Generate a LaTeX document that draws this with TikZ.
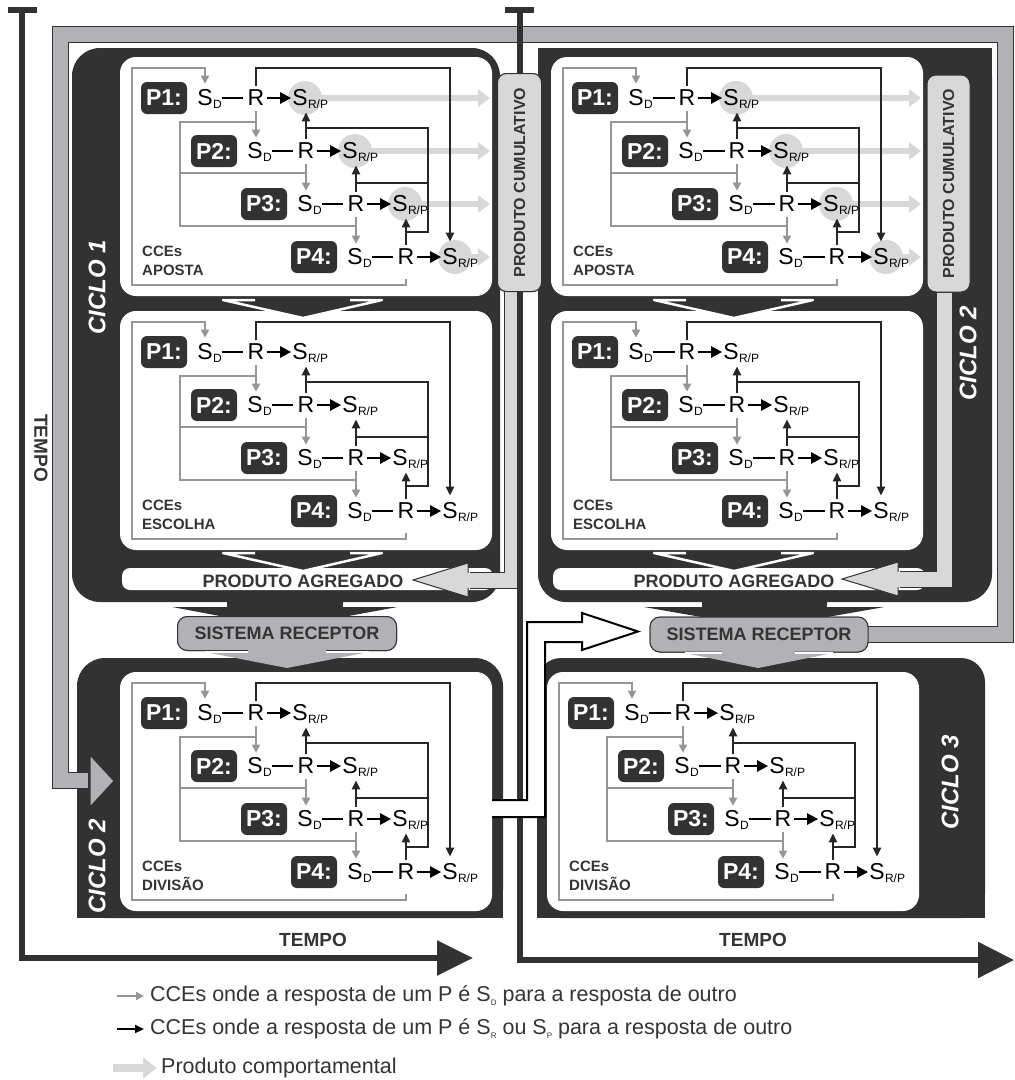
\documentclass[tikz,border=0pt]{standalone}
\usepackage{fontspec}
\setmainfont{Liberation Sans}
\usetikzlibrary{positioning, arrows.meta, calc}
\definecolor{boxDark}{RGB}{50,50,50}
\definecolor{cceGray}{RGB}{150,150,150}
\definecolor{prodLight}{RGB}{216,216,216}
\definecolor{recGray}{RGB}{178,178,182}
\definecolor{txtDark}{RGB}{52,52,52}
\newcommand{\lowsub}[1]{\raisebox{-0.35ex}{\fontsize{8}{8}\selectfont #1}}

% one panel of four participants, in local coordinates
\newcommand{\ccepanel}[3]{%
  \begin{scope}[shift={#1}]
    \fill[white, rounded corners=16pt] (120,57) rectangle (492,296);
    \ifnum#3=1
      \foreach \k in {1,...,4} {
        \node[prodcircle] (c\k) at (255+50*\k, 45+53*\k) {};
        \draw[prodarrow] (c\k.center) -- (c\k.center -| 490,0);
      }
    \fi
    \foreach \k in {1,...,4} {
      \node[plabel] (p\k) at (114+50*\k, 45+53*\k) {P\k:};
      \node[letter] (sd\k) at ([xshift=41pt]p\k.center) {S};
      \node[sub] at ([yshift=-3pt]sd\k.base east) {D};
      \node[letter] (r\k) at ([xshift=92pt]p\k.center) {R};
      \node[letter] (s\k) at ([xshift=136pt]p\k.center) {S};
      \node[sub] at ([yshift=-3pt]s\k.base east) {R/P};
      \draw[dashbar] ([xshift=9pt]sd\k.east) -- ([xshift=-4pt]r\k.west);
      \draw[mainarrow] ([xshift=2pt]r\k.east) -- ([xshift=-1pt]s\k.west);
    }
    % S_D links (grey)
    \draw[grayarrow, shorten <=14pt, shorten >=6pt] (r4.south) -- (r4.south |- 0,285) -- (132,285) -- (132,68) -| (sd1.north);
    \foreach \a/\b in {1/2, 2/3, 3/4}
      \draw[grayarrow, shorten <=5pt, shorten >=5pt] (r\a.south) -- (r\a.south |- sd\b.north);
    \draw[grayline] (r1.south |- 0,122) -- (180,122) -- (180,226) -- (r3.south |- 0,226);
    \draw[grayline] (180,173) -- (r2.south |- 0,173);
    % S_R / S_P links (black)
    \draw[blackarrow, shorten <=4pt, shorten >=7pt] (r1.north) -- (r1.north |- 0,68) -| (s4.north);
    \foreach \a/\b in {2/1, 3/2, 4/3}
      \draw[blackarrow, shorten <=4pt, shorten >=6pt] (r\a.north) -- (r\a.north |- s\b.south);
    \draw[blackline] (r2.north |- 0,128) -| (428,232) -- (r4.north |- 0,232);
    \draw[blackline] (428,183) -- (r3.north |- 0,183);
    \node[ccename] (name) at (142,246) {CCEs\\#2};
  \end{scope}}

% white-edged arrowhead between two panels
\newcommand{\chevron}[2]{%
  \filldraw[fill=boxDark, draw=white, line width=2.5pt, line join=round]
    (255+#1,#2) -- (223+#1,#2) -- (303+#1,#2+18) -- (382+#1,#2) -- (350+#1,#2);}

\begin{document}
\begin{tikzpicture}[x=1pt, y=-1pt,
    plabel/.style={fill=boxDark, rounded corners=6pt, minimum width=46pt, minimum height=32pt,
        inner sep=0pt, text=white, font=\fontsize{23}{23}\selectfont\bfseries},
    letter/.style={inner sep=0pt, text=black, font=\fontsize{23}{23}\selectfont},
    sub/.style={inner sep=0pt, anchor=base west, text=black, font=\fontsize{12}{12}\selectfont},
    ccename/.style={inner sep=0pt, anchor=north west, align=left, text=txtDark,
        font=\fontsize{15}{19}\selectfont\bfseries},
    dashbar/.style={black, line width=2.5pt},
    mainarrow/.style={black, line width=2.5pt, -{Triangle[length=11pt, width=11pt]}},
    grayline/.style={cceGray, line width=2pt},
    grayarrow/.style={grayline, -{Triangle[length=8pt, width=8pt]}},
    blackline/.style={black!85, line width=2pt},
    blackarrow/.style={blackline, -{Triangle[length=9pt, width=8pt]}},
    prodarrow/.style={prodLight, line width=6pt, -{Triangle[length=12pt, width=17pt]}},
    prodcircle/.style={circle, fill=prodLight, minimum size=34pt, inner sep=0pt},
    aggbar/.style={fill=white, rounded corners=8pt, minimum height=22pt, inner sep=0pt},
    aggtext/.style={inner sep=0pt, text=txtDark, font=\fontsize{18}{18}\selectfont\bfseries},
    recbox/.style={fill=recGray, draw=boxDark, line width=1pt, rounded corners=10pt,
        minimum width=219pt, minimum height=34pt, inner sep=0pt, text=txtDark,
        font=\fontsize{18}{18}\selectfont\bfseries},
    cumbox/.style={fill=prodLight, draw=boxDark, line width=1pt, rounded corners=9pt, rotate=90,
        minimum width=218pt, minimum height=44pt, inner sep=0pt, text=txtDark,
        font=\fontsize{16}{16}\selectfont\bfseries},
    ciclo/.style={rotate=90, inner sep=0pt, text=white, font=\fontsize{24}{24}\selectfont\bfseries\itshape},
    tempo/.style={inner sep=0pt, text=txtDark, font=\fontsize{19}{19}\selectfont\bfseries},
    axisline/.style={boxDark, line width=5.5pt},
    legendtext/.style={anchor=west, inner sep=0pt, text=txtDark, font=\fontsize{21.5}{24}\selectfont}
]
\useasboundingbox (0,0) rectangle (1015,1080);

% cycle frames
\fill[boxDark, rounded corners=28pt] (72,48) rectangle (500,602);
\fill[boxDark, rounded corners=28pt] (538,48) rectangle (992,602);
\fill[boxDark] (538,48) rectangle (992,150);
\fill[boxDark, rounded corners=28pt] (77,658) rectangle (503,918);
\fill[boxDark] (77,800) rectangle (503,918);
\fill[boxDark, rounded corners=24pt] (537,658) rectangle (985,918);
\fill[boxDark] (537,800) rectangle (985,918);

% panels
\ccepanel{(0,0)}{APOSTA}{1}
\ccepanel{(0,254)}{ESCOLHA}{0}
\ccepanel{(0,615)}{DIVISÃO}{0}
\ccepanel{(431,0)}{APOSTA}{1}
\ccepanel{(431,254)}{ESCOLHA}{0}
\ccepanel{(427,615)}{DIVISÃO}{0}

% aggregate product bars
\node[aggbar, minimum width=371pt] (agg1) at (307.5,579) {};
\node[aggbar, minimum width=372pt] (agg2) at (739,579) {};
\chevron{0}{300}
\chevron{0}{553}
\chevron{431}{300}
\chevron{431}{553}
\node[aggtext] (aggt1) at (303,581) {PRODUTO AGREGADO};
\node[aggtext] (aggt2) at (734,581) {PRODUTO AGREGADO};

% dark arrows down to the receptor
\fill[boxDark] (227,595) -- (227,606) -- (167,606) -- (283,628) -- (403,606) -- (343,606) -- (343,595) -- cycle;
\draw[white, line width=3pt] (167,605) -- (227,605) (343,605) -- (403,605);
\fill[boxDark] (702,595) -- (702,606) -- (638,606) -- (765,628) -- (890,606) -- (827,606) -- (827,595) -- cycle;
\draw[white, line width=3pt] (638,605) -- (702,605) (827,605) -- (890,605);

\node[recbox] (rec1) at (287,633.5) {SISTEMA RECEPTOR};
\node[recbox, minimum height=35pt, minimum width=218pt] (rec2) at (759,634.5) {SISTEMA RECEPTOR};
\node[cumbox] (cum1) at (519.5,182.5) {PRODUTO CUMULATIVO};
\node[cumbox, minimum height=43pt, minimum width=217pt] (cum2) at (948.5,183.5) {PRODUTO CUMULATIVO};

% behavioural product loop to the next cycle
\draw[boxDark, line width=17pt] (rec2.center) -- (rec2.center -| 1005,0) |- (60.5,34.5) |- (95,780.5);
\filldraw[fill=recGray, draw=boxDark, line width=1pt] (90,755) -- (114,781) -- (90,807) -- cycle;
\draw[recGray, line width=15pt] (rec2.center) -- (rec2.center -| 1005,0) |- (60.5,34.5) |- (88,780.5);

% cumulative product bands
\draw[boxDark, line width=17pt] (cum1.west -| 512,0) |- (470,580);
\filldraw[fill=prodLight, draw=boxDark, line width=1pt] (468,563) -- (413,580) -- (468,597) -- cycle;
\draw[prodLight, line width=15pt] (cum1.west -| 512,0) |- (466,580);
\draw[boxDark, line width=17pt] (cum2.west -| 944.5,0) |- (900,579);
\filldraw[fill=prodLight, draw=boxDark, line width=1pt] (898,562) -- (842,579) -- (898,596) -- cycle;
\draw[prodLight, line width=15pt] (cum2.west -| 944.5,0) |- (896,579);

% time axes
\coordinate (t1top) at (22,10);
\coordinate (t1corner) at (22,958);
\coordinate (t1end) at (473,958);
\coordinate (t2top) at (520,10);
\coordinate (t2corner) at (520,960);
\coordinate (t2end) at (1014,960);
\draw[axisline, -{Triangle[length=36pt, width=34pt]}] (t1top) -- (t1corner) -- (t1end);
\draw[axisline, -{Triangle[length=36pt, width=35pt]}] (t2top) -- (t2corner) -- (t2end);
\draw[axisline] (8,10) -- (37,10);
\draw[axisline] (505,10) -- (534,10);

% cumulative boxes over the axis
\node[cumbox] at (cum1) {PRODUTO CUMULATIVO};
\node[cumbox, minimum height=43pt, minimum width=217pt] at (cum2) {PRODUTO CUMULATIVO};

% hollow arrow from division panel to the second receptor
\fill[white] (488,800) -- (527,800) -- (527,622) -- (582,622) -- (582,613) -- (638,631.5)
    -- (582,650) -- (582,642) -- (545,642) -- (545,817) -- (488,817) -- cycle;
\draw[black, line width=2pt] (492,800) -- (527,800) -- (527,622) -- (582,622) -- (582,613) -- (638,631.5)
    -- (582,650) -- (582,642) -- (545,642) -- (545,817) -- (492,817);

% receptor boxes and heads into the next cycle
\node[recbox] at (rec1) {SISTEMA RECEPTOR};
\node[recbox, minimum height=35pt, minimum width=218pt] at (rec2) {SISTEMA RECEPTOR};
\fill[recGray] (248,646) -- (248,652) -- (205,652) -- (287,668) -- (369,652) -- (326,652) -- (326,646) -- cycle;
\draw[white, line width=2pt] (205,652) -- (248,652) (326,652) -- (369,652);
\fill[recGray] (722,648) -- (722,653) -- (685,653) -- (758,668) -- (833,653) -- (795,653) -- (795,648) -- cycle;
\draw[white, line width=2pt] (685,653) -- (722,653) (795,653) -- (833,653);

% labels
\node[ciclo] (cy1) at (97,287) {CICLO 1};
\node[ciclo] (cy2a) at (968,353) {CICLO 2};
\node[ciclo] (cy2b) at (97,866) {CICLO 2};
\node[ciclo] (cy3) at (950,782) {CICLO 3};
\node[tempo] (tm1) at (313,940) {TEMPO};
\node[tempo] (tm2) at (753,940) {TEMPO};
\node[tempo, rotate=-90] (tm3) at (41,448) {TEMPO};

% legend
\coordinate (lg1a) at (117,996);
\coordinate (lg1b) at (144,996);
\coordinate (lg2a) at (117,1029);
\coordinate (lg2b) at (144,1029);
\coordinate (lg3a) at (113,1068);
\coordinate (lg3b) at (157,1068);
\draw[grayarrow] (lg1a) -- (lg1b);
\draw[blackarrow, black] (lg2a) -- (lg2b);
\draw[prodarrow, line width=8pt, -{Triangle[length=14pt, width=20pt]}] (lg3a) -- (lg3b);
\node[legendtext] (lg1) at (150,996) {CCEs onde a resposta de um P é S\lowsub{D} para a resposta de outro};
\node[legendtext] (lg2) at (150,1029) {CCEs onde a resposta de um P é S\lowsub{R} ou S\lowsub{P} para a resposta de outro};
\node[legendtext] (lg3) at (161,1068) {Produto comportamental};
\end{tikzpicture}
\end{document}
